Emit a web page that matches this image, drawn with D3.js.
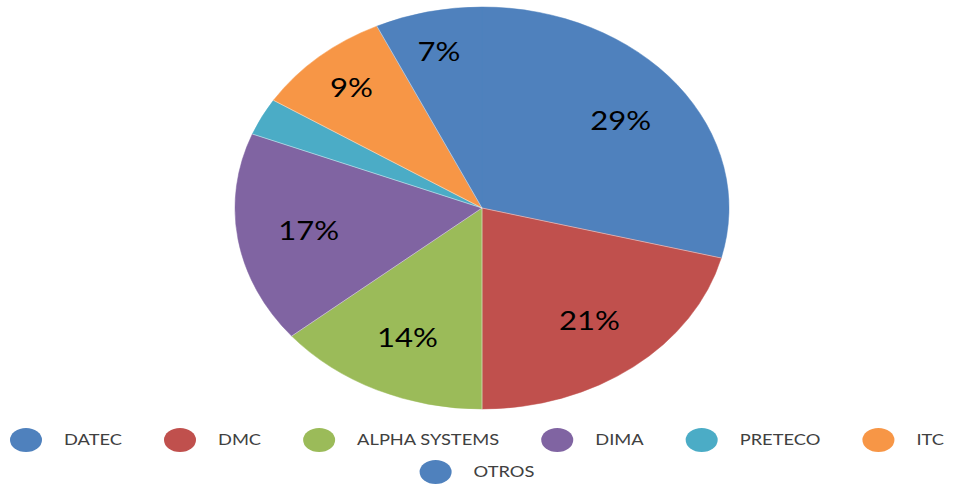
<!DOCTYPE html>
<html>
<head>
<meta charset="utf-8">
<script src="https://cdn.jsdelivr.net/npm/d3@7"></script>
<style>
  body { margin: 0; background: #fff; }
  text { font-family: Lato, "Liberation Sans", sans-serif; }
</style>
</head>
<body>
<script>
// chart data
var categories = ["DATEC", "DMC", "ALPHA SYSTEMS", "DIMA", "PRETECO", "ITC", "OTROS"];
var values = [29, 21, 14, 17, 3, 9, 7];
var colors = ["#4F81BD", "#C0504D", "#9BBB59", "#8064A2", "#4BACC6", "#F79646", "#4F81BD"];

var width = 954, height = 485;
var cx = 482, cy = 208, rx = 247, ry = 201;
var sx = rx / ry;  // the pie is drawn stretched wide

var svg = d3.select("body").append("svg")
    .attr("width", width)
    .attr("height", height);

var data = categories.map(function(c, i) { return {name: c, value: values[i], color: colors[i]}; });

var pie = d3.pie()
    .sort(null)
    .value(function(d) { return d.value; });

var arcs = pie(data);

var arc = d3.arc().innerRadius(0).outerRadius(ry);

var g = svg.append("g")
    .attr("transform", "translate(" + cx + "," + cy + ") scale(" + sx + ",1)");

g.selectAll("path")
    .data(arcs)
  .enter().append("path")
    .attr("d", arc)
    .attr("fill", function(d) { return d.data.color; })
    .attr("stroke", function(d) { return d.data.color; })
    .attr("stroke-width", 0.5)
    .attr("vector-effect", "non-scaling-stroke");

// faint light borders only where the colour changes
var borders = arcs.filter(function(d, i) {
  var prev = arcs[(i - 1 + arcs.length) % arcs.length];
  return prev.data.color !== d.data.color;
});
g.selectAll(".border")
    .data(borders)
  .enter().append("line")
    .attr("class", "border")
    .attr("x1", 0).attr("y1", 0)
    .attr("x2", function(d) { return ry * Math.sin(d.startAngle); })
    .attr("y2", function(d) { return -ry * Math.cos(d.startAngle); })
    .attr("stroke", "#fff")
    .attr("stroke-opacity", 0.6)
    .attr("stroke-width", 0.8)
    .attr("vector-effect", "non-scaling-stroke");

// percent labels, small slices pushed a bit outward
var total = d3.sum(values);
svg.selectAll(".lbl")
    .data(arcs.filter(function(d) { return d.data.value >= 5; }))
  .enter().append("text")
    .attr("class", "lbl")
    .attr("transform", function(d) {
      var k = d.data.value < 10 ? 0.8 : 0.71;
      var c = d3.arc().innerRadius(ry * k).outerRadius(ry * k).centroid(d);
      return "translate(" + (cx + c[0] * sx) + "," + (cy + c[1]) + ") scale(1.15,1)";
    })
    .attr("text-anchor", "middle")
    .attr("dy", "0.36em")
    .attr("font-size", 27)
    .attr("fill", "#000")
    .text(function(d) { return Math.round(d.data.value / total * 100) + "%"; });

// legend: ellipse marker + label, wrapped in rows and centered
var legendMax = 950, rowY = [440, 472];
var mW = 32, mH = 24, gapText = 22, gapItem = 42, tScale = 1.22;

var leg = svg.append("g");
var items = leg.selectAll(".item")
    .data(data)
  .enter().append("g")
    .attr("class", "item");

items.append("ellipse")
    .attr("rx", mW / 2)
    .attr("ry", mH / 2)
    .attr("fill", function(d) { return d.color; });

items.append("text")
    .attr("font-size", 15)
    .attr("fill", "#404040")
    .attr("dy", "0.36em")
    .text(function(d) { return d.name; });

// measure and place into rows
var rows = [[]], rowW = [0];
items.each(function(d) {
  var tw = this.querySelector("text").getComputedTextLength() * tScale;
  var w = mW + gapText + tw;
  var r = rows.length - 1;
  var need = rowW[r] === 0 ? w : rowW[r] + gapItem + w;
  if (need > legendMax && rowW[r] > 0) {
    rows.push([]); rowW.push(0); r++;
    need = w;
  }
  rows[r].push({node: this, w: w});
  rowW[r] = need;
});

rows.forEach(function(row, r) {
  var x = Math.max(2, (width - rowW[r]) / 2);
  row.forEach(function(it) {
    var sel = d3.select(it.node);
    sel.select("ellipse").attr("cx", x + mW / 2).attr("cy", rowY[r]);
    sel.select("text")
      .attr("transform", "translate(" + (x + mW + gapText) + "," + rowY[r] + ") scale(" + tScale + ",1)");
    x += it.w + gapItem;
  });
});
</script>
</body>
</html>
